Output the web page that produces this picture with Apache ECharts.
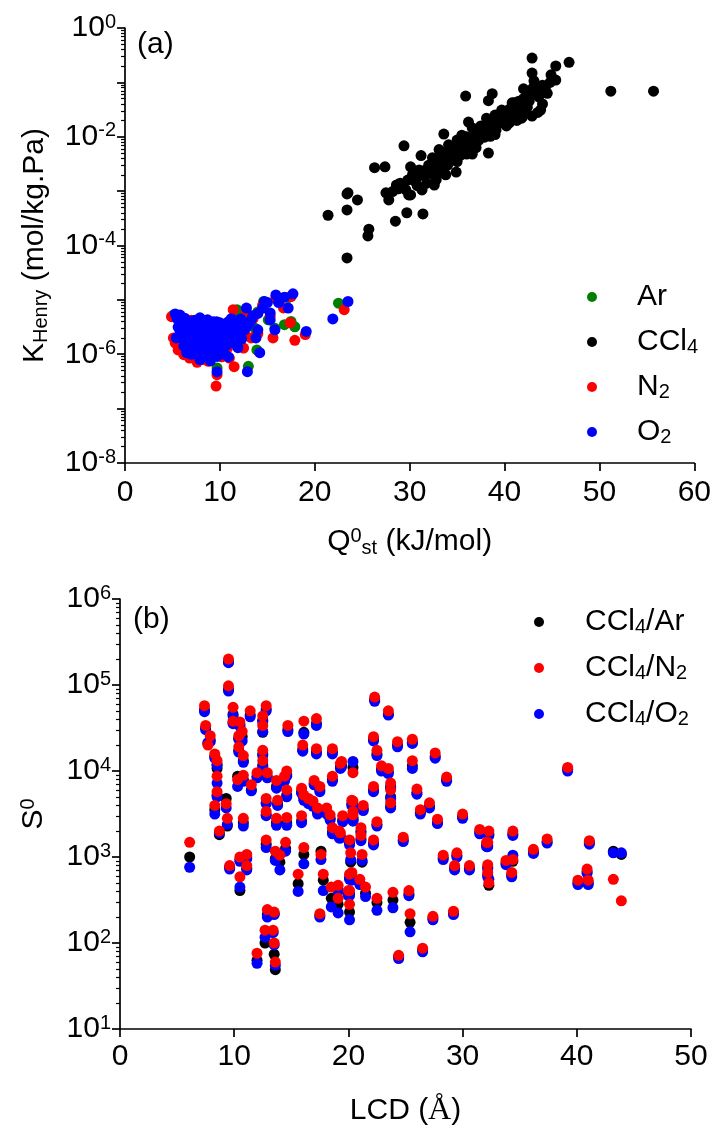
<!DOCTYPE html>
<html><head><meta charset="utf-8">
<script src="https://cdn.jsdelivr.net/npm/echarts@6/dist/echarts.min.js"></script>
<style>html,body{margin:0;padding:0;background:#fff}#c{width:714px;height:1128px}</style>
</head><body><div id="c"></div><script>
const FONT = 'Liberation Sans';

// ---------- Panel (a): Henry constant vs isosteric heat ----------
const ccl4Data = [
[42.9,0.28],[46.8,0.234],[45.4,0.20],[44.9,0.138],[45.4,0.11],[42.9,0.148],[43.1,0.107],[51.2,0.069],[55.7,0.069],[35.9,0.056],
[38.7,0.062],[38.3,0.046],[42.0,0.076],[43.6,0.054],[43.8,0.031],[40.8,0.042],[41.8,0.022],[42.9,0.024],[40.7,0.020],[39.7,0.031],
[38.1,0.022],[37.8,0.0145],[36.6,0.0145],[36.2,0.0186],[39.1,0.0132],[38.5,0.0102],[37.3,0.0087],[35.5,0.0107],[35.0,0.0087],[33.6,0.0112],
[34.1,0.0071],[33.1,0.0058],[29.4,0.0068],[31.2,0.0045],[32.4,0.0041],[32.0,0.0030],[31.0,0.00245],[30.1,0.0028],[33.1,0.0030],[34.9,0.00224],
[33.8,0.0020],[36.0,0.0048],[36.6,0.0048],[38.3,0.0050],[32.8,0.00162],[32.6,0.00129],[31.3,0.00105],[30.1,0.00085],[29.6,0.00105],[28.6,0.00129],
[28.2,0.00098],[27.8,0.00069],[27.5,0.00093],[29.9,0.00085],[31.3,0.00115],[27.4,0.0028],[26.3,0.0027],[31.4,0.00038],[29.7,0.0004],[28.5,0.00028],
[23.5,0.00093],[24.5,0.00069],[23.4,0.00045],[25.7,0.0002],[25.6,0.00015],[23.4,5.9e-5],[21.4,0.00036],[23.4,0.00089],
[30.5,0.0018],[31.5,0.0020],[32.0,0.0025],[32.5,0.0032],[33.0,0.0040],[33.5,0.0050],[34.0,0.0040],[34.5,0.0056],[35.0,0.0063],[35.5,0.0079],
[36.0,0.0100],[36.5,0.0079],[37.0,0.0112],[37.5,0.0158],[38.0,0.0126],[38.5,0.0178],[39.0,0.025],[39.5,0.020],[40.0,0.028],[40.5,0.032],
[41.0,0.035],[41.5,0.045],[42.0,0.050],[42.5,0.063],[43.0,0.079],[44.0,0.089],[44.5,0.063],[44.0,0.040],[43.5,0.028],[31.8,0.0014],
[30.8,0.00126],[29.0,0.0014],[33.4,0.0025],[35.3,0.0045],[37.0,0.0063],[40.2,0.0158],[41.3,0.020],[42.2,0.032],[40.6,0.0234],[41.9,0.0234],
[41.0,0.042],[42.4,0.035],
[28.8,0.0011],[29.3,0.0013],[29.8,0.0016],[30.3,0.0020],[30.6,0.0015],[31.0,0.0019],[31.6,0.0024],[32.2,0.0021],[32.7,0.0028],[33.2,0.0034],
[33.7,0.0036],[34.2,0.0046],[34.7,0.0050],[35.2,0.0058],[35.7,0.0066],[36.2,0.0075],[36.8,0.0092],[37.4,0.0105],[37.9,0.0098],[38.4,0.0140],
[38.9,0.0160],[39.3,0.0170],[39.8,0.0230],[40.3,0.0250],[40.9,0.0300],[41.4,0.0300],[42.0,0.0400],[42.6,0.0450],[43.2,0.0600],[43.8,0.0700],
[44.3,0.0800],[44.8,0.1000],[33.0,0.0022],[34.0,0.0030],[35.0,0.0035],[36.0,0.0060],[37.0,0.0080],[39.0,0.0110],[40.5,0.0180]
];
const arData = [
[5.1,5.25e-6],[22.5,8.7e-6],[13.0,6.0e-7],[13.9,1.2e-6],[16.8,3.5e-6],[17.9,3.2e-6],[11.8,6.6e-6],[14.6,9.3e-6],[13.7,3.0e-6],[9.7,5.6e-7],
[15.1,4.3e-6],[6.0,3.5e-6],[7.0,2.5e-6],[8.0,1.6e-6],[9.0,3.0e-6],[10.0,1.5e-6],[11.0,2.5e-6],[12.5,4.0e-6],[14.0,6.0e-6],[16.0,1.0e-5],
[17.2,1.1e-5],[6.5,1.2e-6],[8.5,9.0e-7],[10.5,1.1e-6],[15.8,3.0e-6],[17.5,4.0e-6],[5.5,4.8e-6],[7.5,3.8e-6],[9.5,3.6e-6],[12.0,5.5e-6]
];
const n2Data = [
[5.2,5.0e-6],[4.9,4.9e-6],[5.1,2.0e-6],[6.2,9.8e-7],[7.6,7.1e-7],[8.8,7.4e-7],[9.6,2.6e-7],[9.7,4.2e-7],[11.5,5.9e-7],[13.3,2.0e-6],
[15.6,2.0e-6],[17.9,1.8e-6],[17.4,3.8e-6],[16.7,7.1e-6],[11.4,6.6e-6],[23.1,6.6e-6],[6.0,3.0e-6],[6.8,2.2e-6],[7.3,1.5e-6],[8.0,3.5e-6],
[8.5,1.2e-6],[9.0,2.5e-6],[9.4,1.0e-6],[10.0,2.0e-6],[10.6,3.2e-6],[11.0,8.5e-7],[12.0,3.5e-6],[12.8,6.0e-6],[13.5,4.5e-6],[14.5,8.0e-6],
[15.3,5.0e-6],[15.9,1.1e-5],[17.5,1.15e-5],[14.0,2.4e-6],[12.6,2.4e-6],[19.0,2.3e-6],[7.0,4.2e-6],[8.3,4.0e-6],[9.5,3.4e-6],[10.8,1.3e-6],
[5.3,1.6e-6],[5.6,1.2e-6],[6.5,1.4e-6],[6.8,8.5e-7],[7.0,9.0e-7],[7.8,1.0e-6],[8.3,8.0e-7],[9.0,1.1e-6],[10.2,9.0e-7],[11.8,1.5e-6],[12.5,1.3e-6]
];
const o2Data = [
[5.3,5.5e-6],[5.8,5.25e-6],[7.9,4.68e-6],[9.65,3.98e-6],[10.9,3.98e-6],[11.9,3.98e-6],[12.8,7.08e-6],[13.5,5.13e-6],[14.7,9.33e-6],[15.9,1.23e-5],
[17.7,1.29e-5],[17.2,7.08e-6],[15.3,5.75e-6],[15.3,4.27e-6],[15.8,2.82e-6],[14.0,2.82e-6],[19.1,2.63e-6],[21.9,4.47e-6],[23.5,9.33e-6],[14.2,1.07e-6],
[10.9,8.91e-7],[9.7,4.79e-7],[12.9,4.79e-7],[7.9,7.94e-7],[6.5,1.07e-6],[5.4,2.0e-6],[11.4,1.62e-6],[11.9,1.32e-6],[9.7,9.12e-7],[6.0,3.55e-6],
[6.5,2.51e-6],[7.0,3.98e-6],[7.2,1.78e-6],[7.5,2.82e-6],[7.8,1.26e-6],[8.2,3.55e-6],[8.4,2.0e-6],[8.6,1.05e-6],[8.9,2.82e-6],[9.1,1.41e-6],
[9.3,3.98e-6],[9.5,2.24e-6],[9.9,1.26e-6],[10.2,2.82e-6],[10.4,1.78e-6],[10.7,3.55e-6],[11.0,2.40e-6],[11.6,2.82e-6],[12.2,4.47e-6],[12.6,2.82e-6],
[13.2,3.98e-6],[14.0,5.62e-6],[14.5,7.08e-6],[16.2,8.91e-6],[16.8,1.12e-5],[6.2,1.41e-6],[8.0,2.40e-6],[9.0,7.59e-7],[10.0,3.8e-6],[13.8,2.0e-6],
[12.0,2.24e-6],[7.0,1.0e-6],[5.6,3.16e-6],[8.7,4.3e-6],[10.5,1.0e-6],[11.2,4.5e-6],[15.0,8.91e-6],
[5.5,4.5e-6],[5.9,4.0e-6],[6.3,4.6e-6],[6.6,3.2e-6],[6.9,2.0e-6],[7.1,3.5e-6],[7.4,4.2e-6],[7.6,2.2e-6],[7.7,1.6e-6],[8.1,1.3e-6],
[8.3,2.8e-6],[8.5,3.8e-6],[8.8,1.7e-6],[9.0,3.4e-6],[9.2,2.6e-6],[9.4,1.6e-6],[9.6,3.0e-6],[9.8,1.9e-6],[10.1,2.3e-6],[10.3,3.4e-6],
[10.6,2.1e-6],[10.8,1.5e-6],[11.1,3.2e-6],[11.3,2.0e-6],[11.5,3.8e-6],[11.8,2.5e-6],[12.4,3.5e-6],[12.9,3.3e-6],[13.4,4.6e-6],[6.0,2.0e-6],
[6.4,1.7e-6],[7.3,1.3e-6],[8.2,1.0e-6],[9.2,1.1e-6],[10.2,1.2e-6],[5.8,2.6e-6],[6.8,2.8e-6],[8.0,3.0e-6],[10.9,2.8e-6],[12.3,1.9e-6]
];

// ---------- Panel (b): selectivity vs LCD ----------
const lcd = [
6.1,7.4,7.5,7.9,7.7,8.3,8.5,8.5,8.5,8.3,
9.4,9.3,8.7,9.5,9.5,9.9,9.9,10.5,11.4,10.7,
10.4,10.4,10.8,10.3,10.8,10.8,11.5,12.5,12.5,12.8,
12.5,12.5,12.0,12.9,12.8,12.8,12.8,13.7,13.8,13.7,
14.4,14.7,14.6,14.6,14.6,15.9,16.1,17.2,16.0,17.2,
17.0,17.5,15.9,16.1,16.5,16.9,17.3,18.1,18.4,18.6,
19.5,19.2,20.4,20.4,18.6,18.6,19.4,20.4,19.3,22.3,
23.5,22.2,22.5,24.3,25.6,27.6,22.9,23.5,25.6,28.6,
22.2,23.7,23.7,23.7,26.0,20.3,21.3,20.4,26.3,27.1,
27.8,30.0,22.5,19.3,21.1,21.1,22.2,24.8,31.5,32.3,
32.2,34.4,36.2,37.4,39.2,41.1,43.2,43.9,20.2,21.2,
20.3,21.0,21.5,20.1,20.1,22.5,23.9,25.3,25.4,27.4,
29.2,26.5,24.4,28.3,29.5,29.3,30.6,32.2,32.2,32.3,
33.8,34.4,34.3,32.1,40.9,40.1,41.0,9.6,10.5,11.1,
11.1,10.5,13.6,14.0,14.5,16.1,15.6,17.6,17.8,17.5,
18.5,19.1,19.1,20.0,20.1,20.1,12.9,13.5,12.7,13.4,
13.5,13.6,12.0
];
const sN2 = [
1480,57500,33900,25700,20000,15800,13200,8710,5750,3980,
2820,4170,2000,200000,97700,55000,38000,37200,50100,28800,
25700,19100,15100,7940,8910,2820,6920,43700,33900,57500,
17400,13200,9550,9550,4790,3390,1580,7760,4570,2820,
8710,33900,10000,6030,2880,3020,38000,40700,20000,18200,
7760,6610,6310,5250,4790,4470,3720,3720,3090,2190,
3020,2000,4470,3090,8710,18200,12900,9550,12300,72400,
50100,25100,17400,21900,23400,16200,11500,10700,13200,8510,
6610,7240,6030,4270,6170,4570,3980,3390,3550,4270,
2750,3160,2570,1910,2190,1780,1580,1700,2090,2000,
1480,2000,1230,1620,11000,1550,550,309,1120,1070,
661,550,447,407,282,331,389,407,219,204,
234,87,72,1050,1120,794,794,813,661,501,
912,933,661,1480,724,537,537,794,1000,1070,
794,589,1170,1050,1480,1290,631,1070,631,219,
447,468,331,407,1580,631,245,229,141,141,
100,60,76
];
const sO2 = [
760,49000,30200,21900,21400,14100,11500,7240,5010,3160,
2400,3720,1910,182000,85100,43700,35500,33100,42700,22400,
23400,16600,12600,6610,7590,2290,5890,37200,28800,50100,
15100,11200,8320,8320,4170,3020,1290,6310,3980,2340,
7590,28800,8710,5010,2340,2510,26900,33900,17000,15800,
6920,5750,5500,4570,4170,3890,3160,3160,2690,1860,
2570,1660,3800,2630,7590,15800,11200,12900,10700,64600,
44700,22400,15100,19100,20900,14100,10000,9330,10700,7590,
5750,6310,4790,3720,5370,3980,3470,2630,3160,3720,
2450,2820,2290,1660,1910,1550,1380,1510,1860,1780,
1320,1780,1100,1450,10000,1410,1120,1120,933,912,
537,479,347,355,186,240,257,355,135,186,
214,79,66,933,1000,708,708,724,589,550,
813,1050,589,1320,646,479,479,724,891,955,
708,447,912,708,1170,832,398,933,407,200,
263,398,224,355,1380,550,200,214,117,132,
95,55,58
];
const sAr = [
1000,51300,31600,22900,20900,14800,12000,10700,5250,3550,
2290,4790,1820,186000,89100,45700,36300,34700,44700,25100,
24000,17400,13200,8710,7940,2510,6030,38900,28200,52500,
15800,11700,8710,8510,4270,3090,1410,6610,4170,2510,
7940,30200,9120,5250,2510,2630,28200,35500,17800,16600,
7240,6030,5750,4790,4370,4070,3310,3310,2820,1950,
2690,1780,3980,2750,7940,16600,11700,11000,11200,67600,
45700,23400,15800,20000,21400,14800,10500,9770,11500,7940,
6030,6610,5010,3890,5620,4170,3630,2880,3310,3890,
2510,2950,2400,1740,2000,1620,1450,1580,1950,1860,
1380,1860,1150,1510,10500,1480,1170,1070,871,871,
575,501,380,372,229,295,316,372,174,195,
224,83,69,977,1050,741,741,759,617,468,
851,891,617,1380,676,501,501,759,933,1000,
741,407,955,871,1260,1070,490,1170,537,209,
331,417,282,380,1450,575,214,219,100,135,
74,49,63
];

// ---------- Tick values ----------
const topXTicks = [0, 10, 20, 30, 40, 50, 60];
const bottomXTicks = [0, 10, 20, 30, 40, 50];
const topYLabelValues = [1e-8, 1e-6, 1e-4, 1e-2, 1];
const topYDecades = [1e-8, 1e-7, 1e-6, 1e-5, 1e-4, 1e-3, 1e-2, 1e-1, 1];
const bottomYDecades = [1e1, 1e2, 1e3, 1e4, 1e5, 1e6];

function minorTicks(decades) {
  const out = [];
  for (let i = 0; i < decades.length - 1; i++) {
    for (let m = 2; m <= 9; m++) out.push(decades[i] * m);
  }
  return out;
}

const FS = 30;
const txt = { fontFamily: FONT, color: '#000' };
const axisRich = {
  m: Object.assign({ fontSize: FS, lineHeight: 32 }, txt),
  p: Object.assign({ fontSize: 20, lineHeight: 16, verticalAlign: 'top' }, txt),
  s: Object.assign({ fontSize: 20, lineHeight: 6, verticalAlign: 'bottom' }, txt),
  r: { fontFamily: 'Liberation Serif', fontSize: 32, lineHeight: 32, color: '#000' }
};
const labelRich = {
  b: Object.assign({ fontSize: FS, lineHeight: 32 }, txt),
  s: Object.assign({ fontSize: 20, lineHeight: 16, verticalAlign: 'top' }, txt)
};
const powLabel = v => '{b|10}{s|' + Math.round(Math.log10(v)) + '}';

const lineStyle = { color: '#000', width: 1.7 };

function xAxis(grid, ticks, name, gap, margin) {
  return {
    type: 'value', gridIndex: grid, min: ticks[0], max: ticks[ticks.length - 1], interval: 10,
    axisLine: { show: true, onZero: false, lineStyle },
    axisTick: { show: true, length: 8, lineStyle },
    axisLabel: { fontSize: FS, fontFamily: FONT, color: '#000', margin },
    splitLine: { show: false },
    name, nameLocation: 'middle', nameGap: gap, nameTextStyle: { rich: axisRich }
  };
}
function yAxisMain(grid, min, max, decades, labelValues, name, gap) {
  return {
    type: 'log', logBase: 10, gridIndex: grid, min, max,
    axisLine: { show: true, onZero: false, lineStyle },
    axisTick: { show: true, length: 8, lineStyle, customValues: decades },
    axisLabel: { customValues: labelValues, formatter: powLabel, rich: labelRich, margin: 9 },
    splitLine: { show: false },
    name, nameLocation: 'middle', nameRotate: 90, nameGap: gap, nameTextStyle: { rich: axisRich }
  };
}
function yAxisMinor(grid, min, max, decades) {
  return {
    type: 'log', logBase: 10, gridIndex: grid, min, max, position: 'left', offset: 0,
    axisLine: { show: false },
    axisTick: { show: true, length: 4, lineStyle: { color: '#000', width: 1.2 }, customValues: minorTicks(decades) },
    axisLabel: { show: false },
    splitLine: { show: false }
  };
}

const legendNames = {
  'Ar': '{a|Ar}', 'CCl4': '{a|CCl}{d|4}', 'N2': '{a|N}{d|2}', 'O2': '{a|O}{d|2}',
  'CCl4/Ar': '{a|CCl}{d|4}{a|/Ar}', 'CCl4/N2': '{a|CCl}{d|4}{a|/N}{d|2}', 'CCl4/O2': '{a|CCl}{d|4}{a|/O}{d|2}'
};
const legendRich = {
  a: Object.assign({ fontSize: FS, lineHeight: 30, verticalAlign: 'top' }, txt),
  d: Object.assign({ fontSize: 20, lineHeight: 14, padding: [19, 0, 0, 0], verticalAlign: 'bottom' }, txt)
};
function legend(data, left, top, gap, pad) {
  return {
    data, orient: 'vertical', left, top, padding: 0, itemGap: gap,
    itemWidth: 10, itemHeight: 10, icon: 'circle', selectedMode: false,
    formatter: n => legendNames[n],
    textStyle: { fontFamily: FONT, fontSize: FS, color: '#000', padding: [0, 0, 0, pad], rich: legendRich }
  };
}

function scatter(name, data, color, xi, yi) {
  return { type: 'scatter', name, data, xAxisIndex: xi, yAxisIndex: yi, symbol: 'circle', symbolSize: 11,
    itemStyle: { color, opacity: 1 }, emphasis: { disabled: true } };
}
const pair = ys => lcd.map((x, i) => [x, ys[i]]);

const chart = echarts.init(document.getElementById('c'), null, { renderer: 'canvas' });
chart.setOption({
  animation: false,
  backgroundColor: '#fff',
  grid: [
    { left: 125, top: 28, width: 571, height: 435 },
    { left: 120, top: 599, width: 571, height: 434 }
  ],
  xAxis: [
    xAxis(0, topXTicks, '{m|Q}{p|0}{s|st}{m| (kJ/mol)}', 63, 15),
    xAxis(1, bottomXTicks, '{m|LCD (}{r|Å}{m|)}', 66, 13)
  ],
  yAxis: [
    yAxisMain(0, 1e-8, 1, topYDecades, topYLabelValues, '{m|K}{s|Henry}{m| (mol/kg.Pa)}', 74),
    yAxisMinor(0, 1e-8, 1, topYDecades),
    yAxisMain(1, 10, 1e6, bottomYDecades, bottomYDecades, '{m|S}{p|0}', 70),
    yAxisMinor(1, 10, 1e6, bottomYDecades)
  ],
  legend: [
    legend(['Ar', 'CCl4', 'N2', 'O2'], 587, 282, 6, 35),
    legend(['CCl4/Ar', 'CCl4/N2', 'CCl4/O2'], 534, 598, 7, 36)
  ],
  graphic: [
    { type: 'text', left: 137, top: 30, style: { text: '(a)', fontSize: FS, fontFamily: FONT, fill: '#000' } },
    { type: 'text', left: 133, top: 605, style: { text: '(b)', fontSize: FS, fontFamily: FONT, fill: '#000' } }
  ],
  series: [
    scatter('Ar', arData, '#008000', 0, 0),
    scatter('CCl4', ccl4Data, '#000000', 0, 0),
    scatter('N2', n2Data, '#ff0000', 0, 0),
    scatter('O2', o2Data, '#0000ff', 0, 0),
    scatter('CCl4/Ar', pair(sAr), '#000000', 1, 2),
    scatter('CCl4/O2', pair(sO2), '#0000ff', 1, 2),
    scatter('CCl4/N2', pair(sN2), '#ff0000', 1, 2)
  ]
});
</script></body></html>
